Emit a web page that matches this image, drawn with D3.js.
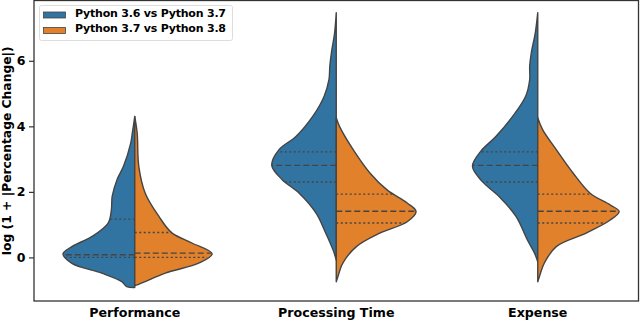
<!DOCTYPE html>
<html>
<head>
<meta charset="utf-8">
<script src="https://cdn.jsdelivr.net/npm/d3@7"></script>
<style>
  body { margin: 0; background: #fff; }
  text { font-family: "DejaVu Sans", sans-serif; font-weight: bold; }
</style>
</head>
<body>
<div id="chart"></div>
<script>
// categories et séries
var categories = ["Performance", "Processing Time", "Expense"]
var series = ["Python 3.6 vs Python 3.7", "Python 3.7 vs Python 3.8"]
var yTicks = [0, 2, 4, 6]

// profils des violons : [valeur, demi-largeur relative]
var perf36 = [[4.3,0],[3.8,0.03],[3.49,0.05],[2.78,0.14],[2.37,0.22],[1.86,0.28],[1.45,0.29],[1.05,0.33],[0.64,0.53],[0.33,0.78],[0.11,0.89],[-0.18,0.78],[-0.48,0.41],[-0.74,0.16],[-0.89,0.1],[-0.92,0]]
var perf37 = [[4.3,0],[3.8,0.03],[2.78,0.05],[1.96,0.13],[1.25,0.3],[0.75,0.46],[0.44,0.71],[0.11,0.96],[-0.17,0.8],[-0.48,0.38],[-0.74,0.13],[-0.82,0.05],[-0.86,0]]
var proc36 = [[7.47,0],[6.86,0.02],[6.24,0.06],[5.83,0.08],[5.43,0.09],[4.92,0.15],[4.31,0.29],[3.69,0.5],[3.29,0.71],[2.81,0.8],[2.37,0.67],[1.96,0.46],[1.35,0.25],[0.74,0.13],[0.23,0.04],[-0.08,0]]
var proc37 = [[4.26,0],[4.0,0.04],[3.29,0.21],[2.57,0.42],[2.06,0.63],[1.66,0.88],[1.4,0.99],[1.09,0.88],[0.74,0.54],[0.33,0.25],[-0.18,0.08],[-0.59,0.02],[-0.74,0]]
var exp36 = [[7.47,0],[6.86,0.03],[6.24,0.08],[5.83,0.1],[5.43,0.1],[4.92,0.15],[4.31,0.31],[3.69,0.52],[3.23,0.71],[2.78,0.81],[2.32,0.69],[1.86,0.48],[1.25,0.27],[0.54,0.13],[0.13,0.04],[-0.13,0]]
var exp37 = [[4.26,0],[3.9,0.06],[3.29,0.23],[2.57,0.44],[1.96,0.65],[1.6,0.9],[1.4,1.01],[1.14,0.9],[0.74,0.6],[0.33,0.23],[-0.18,0.08],[-0.59,0.02],[-0.74,0]]

// quartiles [Q1, médiane, Q3]
var quart36 = [[0.0, 0.08, 1.17], [2.30, 2.81, 3.22], [2.30, 2.81, 3.22]]
var quart37 = [[0.0, 0.13, 0.76], [1.05, 1.41, 1.93], [1.05, 1.41, 1.93]]

var profiles36 = [perf36, proc36, exp36]
var profiles37 = [perf37, proc37, exp37]

var width = 640
var height = 322
var margin = {left: 34, right: 1.5, top: 0.5, bottom: 21}

var svg = d3.select("#chart")
  .append("svg")
    .attr("width", width)
    .attr("height", height)

var color = d3.scaleOrdinal()
  .domain(series)
  .range(["#3274a1", "#e1812c"])

var x = d3.scaleBand()
  .domain(categories)
  .range([margin.left, width - margin.right])

var y = d3.scaleLinear()
  .domain([-1.33, 7.84])
  .range([height - margin.bottom, margin.top])

// demi-largeur max = 0.4 d'une bande
var w = d3.scaleLinear()
  .domain([0, 1])
  .range([0, x.bandwidth() * 0.4])

var outline = "#444"

function halfWidth(profile, v) {
  for (var i = 0; i < profile.length - 1; i++) {
    var a = profile[i], b = profile[i + 1]
    if (v <= a[0] && v >= b[0]) {
      var t = (a[0] - v) / (a[0] - b[0])
      return a[1] + t * (b[1] - a[1])
    }
  }
  return 0
}

categories.forEach(function(cat, ci) {
  var cx = x(cat) + x.bandwidth() / 2
  ;[profiles36[ci], profiles37[ci]].forEach(function(prof, si) {
    var sign = si === 0 ? -1 : 1
    var area = d3.area()
      .curve(d3.curveCatmullRom)
      .y(function(d) { return y(d[0]) })
      .x0(cx)
      .x1(function(d) { return cx + sign * w(d[1]) })
    svg.append("path")
      .datum(prof)
      .attr("d", area)
      .attr("fill", color(series[si]))
      .attr("stroke", outline)
      .attr("stroke-width", 1.4)
      .attr("stroke-linejoin", "round")

    // lignes des quartiles
    var q = si === 0 ? quart36[ci] : quart37[ci]
    q.forEach(function(v, qi) {
      var hw = w(halfWidth(prof, v))
      svg.append("line")
        .attr("x1", cx)
        .attr("x2", cx + sign * hw)
        .attr("y1", y(v))
        .attr("y2", y(v))
        .attr("stroke", outline)
        .attr("stroke-width", 1.4)
        .attr("stroke-dasharray", qi === 1 ? "6,3" : "2,2.5")
    })
  })
})

// cadre des axes
svg.append("rect")
  .attr("x", margin.left)
  .attr("y", margin.top)
  .attr("width", width - margin.right - margin.left)
  .attr("height", height - margin.bottom - margin.top)
  .attr("fill", "none")
  .attr("stroke", "#333")
  .attr("stroke-width", 1.3)

// axe y
var yAxis = svg.append("g")
  .attr("transform", "translate(" + margin.left + ",0)")
  .call(d3.axisLeft(y).tickValues(yTicks).tickSize(5).tickPadding(3.5))
yAxis.select(".domain").remove()
yAxis.selectAll("line").attr("stroke", "#333").attr("stroke-width", 1.2)
yAxis.selectAll("text").attr("font-size", 12.5).attr("font-family", "DejaVu Sans").attr("font-weight", "bold").attr("fill", "#000")

// axe x
var xAxis = svg.append("g")
  .attr("transform", "translate(0," + (height - margin.bottom) + ")")
  .call(d3.axisBottom(x).tickSize(0).tickPadding(7))
xAxis.select(".domain").remove()
xAxis.selectAll("text").attr("font-size", 12.6).attr("font-family", "DejaVu Sans").attr("font-weight", "bold").attr("fill", "#000")

// titre de l'axe y
svg.append("text")
  .attr("transform", "translate(7," + ((height - margin.bottom + margin.top) / 2) + ") rotate(-90)")
  .attr("text-anchor", "middle")
  .attr("dominant-baseline", "middle")
  .attr("font-size", 12.3)
  .text("log (1 + |Percentage Change|)")

// légende
var legend = svg.append("g")
legend.append("rect")
  .attr("x", 39.5)
  .attr("y", 5.5)
  .attr("width", 193)
  .attr("height", 35)
  .attr("rx", 2)
  .attr("fill", "#fff")
  .attr("fill-opacity", 0.8)
  .attr("stroke", "#ddd")

legend.selectAll("legendbox")
  .data(series)
  .enter()
  .append("rect")
    .attr("x", 43.5)
    .attr("y", function(d, i) { return 12 + i * 15.5 })
    .attr("width", 22)
    .attr("height", 6)
    .attr("fill", function(d) { return color(d) })
    .attr("stroke", outline)
    .attr("stroke-width", 0.8)

legend.selectAll("legendlabel")
  .data(series)
  .enter()
  .append("text")
    .attr("x", 75)
    .attr("y", function(d, i) { return 16.5 + i * 15.5 })
    .attr("font-size", 11)
    .attr("textLength", 151)
    .attr("lengthAdjust", "spacing")
    .text(function(d) { return d })
</script>
</body>
</html>
